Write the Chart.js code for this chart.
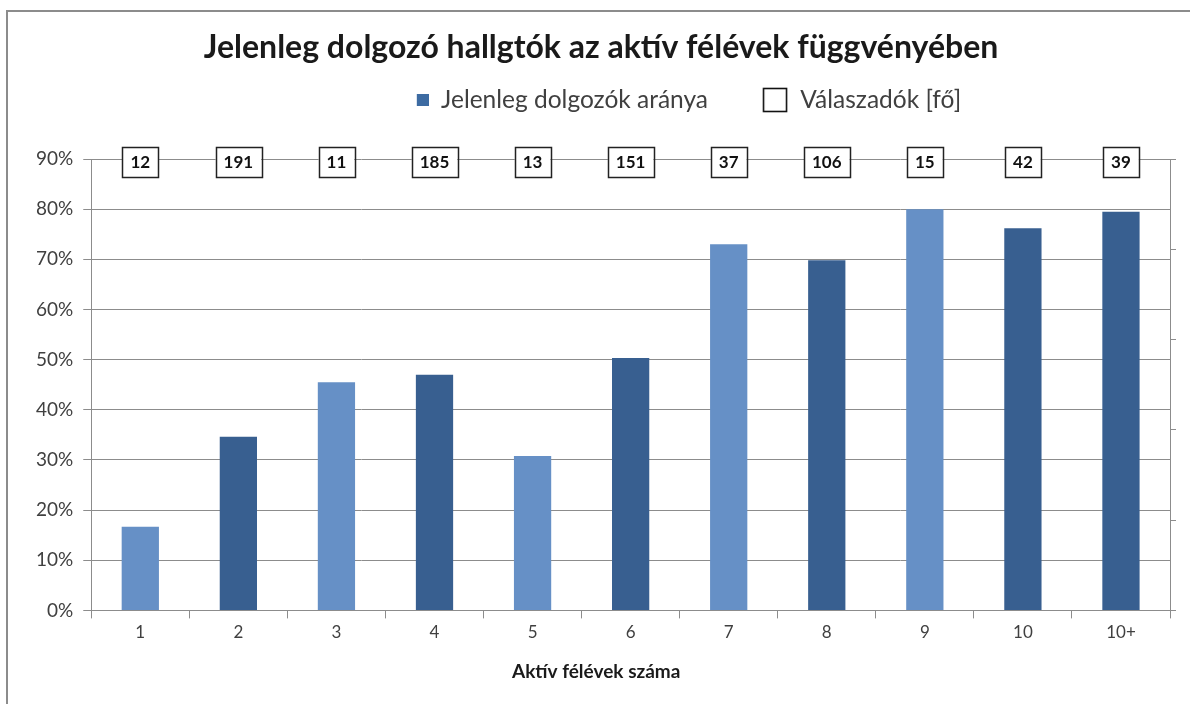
<!DOCTYPE html>
<html lang="hu">
<head>
<meta charset="utf-8">
<script src="https://cdn.jsdelivr.net/npm/chart.js@4.4.1/dist/chart.umd.min.js"></script>
<style>
    html, body { margin: 0; padding: 0; background: #fff; }
    #wrap { position: relative; width: 1190px; height: 704px; }
    #frame {
        position: absolute; left: 6px; top: 10px; right: -10px; bottom: -10px;
        border-left: 2px solid #8c8c8c; border-top: 2px solid #8c8c8c;
        pointer-events: none;
    }
</style>
</head>
<body>
<div id="wrap">
    <canvas id="chart" width="1190" height="704"></canvas>
    <div id="frame"></div>
</div>
<script>
// Chart data
const semesters = ['1', '2', '3', '4', '5', '6', '7', '8', '9', '10', '10+'];
const workingShare = [16.7, 34.6, 45.5, 47.0, 30.8, 50.3, 73.0, 69.8, 80.0, 76.2, 79.5];
const respondents = [12, 191, 11, 185, 13, 151, 37, 106, 15, 42, 39];
const percentTicks = [0, 10, 20, 30, 40, 50, 60, 70, 80, 90];

const LIGHT = '#6690c6';
const DARK = '#385f90';
const barColors = ['light', 'dark', 'light', 'dark', 'light', 'dark', 'light', 'dark', 'light', 'dark', 'dark']
    .map(c => c === 'light' ? LIGHT : DARK);

const FONT = 'Lato, "Open Sans", "Liberation Sans", sans-serif';
const AXIS_GRAY = '#8c8c8c';

// Legend placement (the legend sits right of centre, as in the original)
const LEGEND_HEIGHT = 91.8;
const LEGEND_DX = 81;
const LEGEND_DY = -33.5;

// Legend symbols: small filled square / large empty box
function makeSymbol(kind) {
    const c = document.createElement('canvas');
    c.width = 26; c.height = 26;
    const g = c.getContext('2d');
    if (kind === 'fill') {
        g.fillStyle = '#3d6ba2';
        g.fillRect(14, 7, 12, 12);
    } else {
        g.fillStyle = '#fff';
        g.fillRect(1, 1, 24, 24);
        g.strokeStyle = '#111';
        g.lineWidth = 1.6;
        g.strokeRect(1.5, 1.5, 23, 23);
    }
    return c;
}
const legendSymbols = [makeSymbol('fill'), makeSymbol('box')];

// Boxed respondent counts along the top of the plot area
const countBoxes = {
    id: 'countBoxes',
    afterDatasetsDraw(chart) {
        const ctx = chart.ctx;
        const xScale = chart.scales.x;
        const y = chart.chartArea.top + 3;
        ctx.save();
        ctx.font = 'bold 17px ' + FONT;
        ctx.textAlign = 'center';
        ctx.textBaseline = 'middle';
        respondents.forEach((n, i) => {
            const x = xScale.getPixelForValue(i);
            const text = String(n);
            const w = ctx.measureText(text).width + 16;
            const h = 30;
            ctx.fillStyle = '#fff';
            ctx.fillRect(x - w / 2, y - h / 2, w, h);
            ctx.strokeStyle = '#222';
            ctx.lineWidth = 1.5;
            ctx.strokeRect(Math.round(x - w / 2) + 0.5, Math.round(y - h / 2) + 0.5, Math.round(w), h);
            ctx.fillStyle = '#111';
            ctx.fillText(text, x, y + 1);
        });
        ctx.restore();
    }
};

// Fixed legend height, then move the legend to where the original has it
const legendPlacement = {
    id: 'legendPlacement',
    beforeInit(chart) {
        const origFit = chart.legend.fit;
        chart.legend.fit = function() {
            origFit.bind(chart.legend)();
            this.height = LEGEND_HEIGHT;
        };
    },
    afterLayout(chart) {
        const lg = chart.legend;
        lg.left += LEGEND_DX;
        lg.right += LEGEND_DX;
        lg.top += LEGEND_DY;
        lg.bottom += LEGEND_DY;
    }
};

new Chart(document.getElementById('chart'), {
    data: {
        labels: semesters,
        datasets: [{
            type: 'bar',
            label: 'Jelenleg dolgozók aránya',
            data: workingShare,
            backgroundColor: barColors,
            barPercentage: 0.38,
            categoryPercentage: 1,
            yAxisID: 'y',
            order: 2
        }, {
            type: 'line',
            label: 'Válaszadók [fő]',
            data: respondents,
            showLine: false,
            pointRadius: 0,
            borderColor: 'transparent',
            yAxisID: 'y2',
            order: 1
        }]
    },
    options: {
        responsive: false,
        animation: false,
        layout: {
            padding: { left: 26, right: 14, top: 0, bottom: 10 }
        },
        plugins: {
            title: {
                display: true,
                text: 'Jelenleg dolgozó hallgtók az aktív félévek függvényében',
                color: '#1a1a1a',
                font: { family: FONT, size: 32, weight: 'bold' },
                padding: { top: 28.8, bottom: 0 }
            },
            legend: {
                display: true,
                position: 'top',
                align: 'center',
                labels: {
                    usePointStyle: true,
                    pointStyleWidth: 26,
                    padding: 54,
                    color: '#404040',
                    font: { family: FONT, size: 24.5 },
                    generateLabels: function(chart) {
                        return chart.data.datasets.map((ds, i) => ({
                            text: ds.label,
                            pointStyle: legendSymbols[i],
                            fillStyle: 'transparent',
                            strokeStyle: 'transparent',
                            lineWidth: 0,
                            datasetIndex: i,
                            fontColor: '#404040'
                        }));
                    }
                }
            },
            tooltip: { enabled: false }
        },
        scales: {
            x: {
                grid: {
                    offset: true,
                    drawOnChartArea: false,
                    drawTicks: true,
                    tickLength: 8,
                    color: AXIS_GRAY
                },
                border: { color: AXIS_GRAY, width: 1 },
                ticks: {
                    color: '#404040',
                    padding: 4,
                    font: { family: FONT, size: 17 }
                },
                title: {
                    display: true,
                    // trailing spaces nudge the title left of centre like in the original
                    text: 'Aktív félévek száma\u2003\u2003\u2003\u2003\u2002\u2009',
                    color: '#1a1a1a',
                    font: { family: FONT, size: 19, weight: 'bold' },
                    padding: { top: 13.8, bottom: 10.6 }
                }
            },
            y: {
                position: 'left',
                min: 0,
                max: 90,
                afterBuildTicks: axis => {
                    axis.ticks = percentTicks.map(v => ({ value: v }));
                },
                grid: {
                    color: AXIS_GRAY,
                    tickLength: 8,
                    lineWidth: 1
                },
                border: { color: AXIS_GRAY, width: 1 },
                ticks: {
                    color: '#404040',
                    padding: 10,
                    font: { family: FONT, size: 19 },
                    callback: v => v + '%'
                }
            },
            y2: {
                position: 'right',
                min: 0,
                max: 200,
                ticks: { display: false, stepSize: 40 },
                grid: {
                    drawOnChartArea: false,
                    tickLength: 6,
                    color: AXIS_GRAY
                },
                border: { color: AXIS_GRAY, width: 1 }
            }
        }
    },
    plugins: [countBoxes, legendPlacement]
});
</script>
</body>
</html>
